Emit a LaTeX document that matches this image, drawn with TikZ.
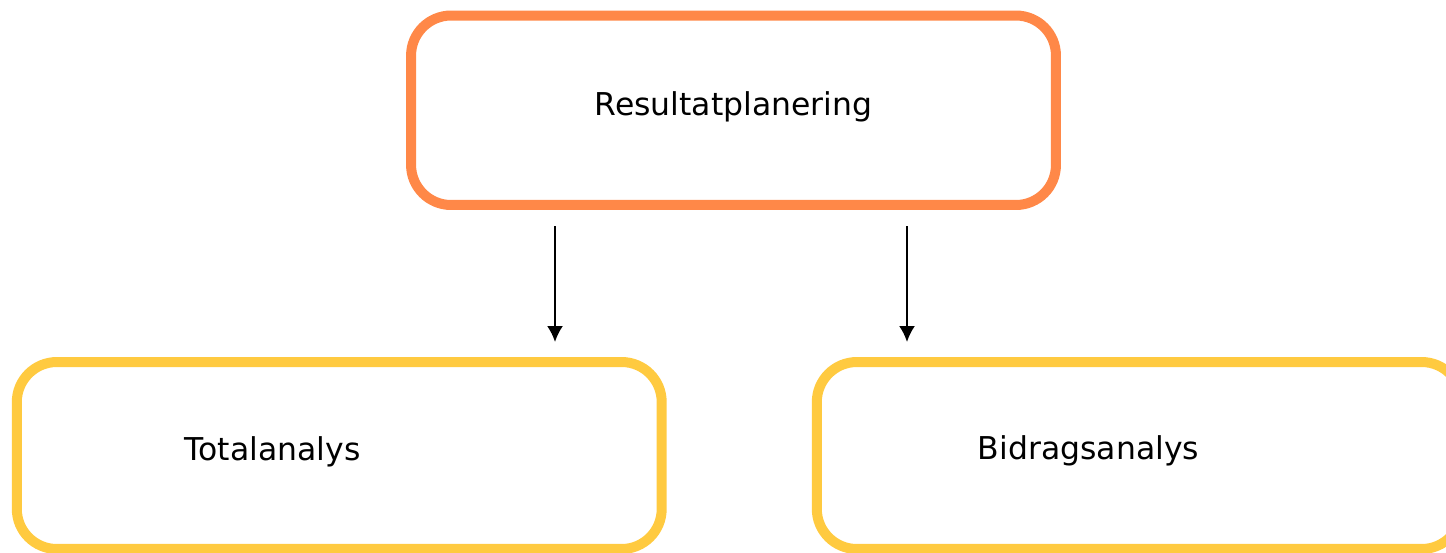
\documentclass[tikz,border=0pt]{standalone}
\usepackage{fontspec}
\setmainfont{DejaVu Sans}
\usetikzlibrary{arrows.meta}
\definecolor{planorange}{RGB}{255,136,72}
\definecolor{analysyellow}{RGB}{255,202,64}
\tikzset{
    box/.style={draw, rounded corners=0.8cm, line width=5.69pt, minimum width=12.9cm},
    caption/.style={anchor=base, font=\fontsize{17.9}{21}\selectfont},
    flow/.style={-{Latex[length=0.32cm, width=0.32cm]}, line width=1.2pt}
}

\begin{document}
\begin{tikzpicture}[x=0.02cm, y=-0.02cm]
        \useasboundingbox (0, 0) rectangle (1446, 552);
        \node [box, draw=planorange, minimum height=3.79cm] (plan) at (733.5, 110.25) {};
        \node [box, draw=analysyellow, minimum height=3.74cm] (total) at (339.25, 455.5) {};
        \node [box, draw=analysyellow, minimum height=3.74cm] (bidrag) at (1139.25, 455.5) {};

        \node [caption] (plantext) at (733.5, 115) {Resultatplanering};
        \node [caption] (totaltext) at (272.5, 460.5) {Totalanalys};
        \node [caption] (bidragtext) at (1088.5, 459.5) {Bidragsanalys};

        \coordinate (leftout) at (555, 226);
        \coordinate (leftin) at (555, 342);
        \coordinate (rightout) at (907, 226);
        \coordinate (rightin) at (907, 342);
        \draw [flow] (leftout) -- (leftin);
        \draw [flow] (rightout) -- (rightin);
    \end{tikzpicture}
\end{document}
